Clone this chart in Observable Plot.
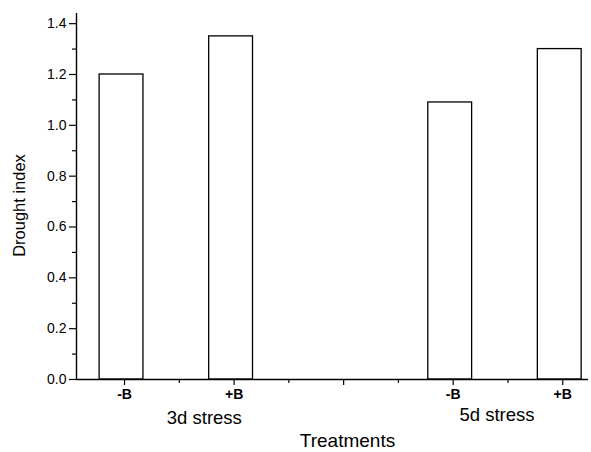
<!DOCTYPE html>
<html>
<head>
<meta charset="utf-8">
<script src="https://cdn.jsdelivr.net/npm/d3@7"></script>
<script src="https://cdn.jsdelivr.net/npm/@observablehq/plot@0.6"></script>
<style>
  html, body { margin: 0; padding: 0; background: #fff; }
</style>
</head>
<body>
<div id="chart"></div>
<script>
// ---- data ----
const treatments = ["-B", "+B", "-B", "+B"];
const groups = ["3d stress", "3d stress", "5d stress", "5d stress"];
const slots = [1, 3, 7, 9];               // ordinal slot on the treatment axis
const droughtIndex = [1.20, 1.35, 1.09, 1.30];
const groupNames = ["3d stress", "5d stress"];
const yTicks = [0, 0.2, 0.4, 0.6, 0.8, 1.0, 1.2, 1.4];
const yMinorTicks = [0.1, 0.3, 0.5, 0.7, 0.9, 1.1, 1.3];
const xMajorTicks = [1, 3, 5, 7, 9];
const xMinorTicks = [2, 4, 6, 8];

const data = treatments.map((t, i) => ({
  treatment: t, group: groups[i], slot: slots[i], value: droughtIndex[i]
}));
const groupCenters = groupNames.map(g => ({
  group: g, slot: d3.mean(data.filter(d => d.group === g), d => d.slot)
}));
const labelAt = new Map(data.map(d => [d.slot, d.treatment]));

const xDomain = [0.123, 9.47];
const yDomain = [0, 1.44];
const font = "'Liberation Sans', Arial, Helvetica, sans-serif";

const chart = Plot.plot({
  width: 591,
  height: 452,
  marginLeft: 76,
  marginRight: 3,
  marginTop: 13,
  marginBottom: 73,
  style: { fontFamily: font, color: "#000", background: "#fff", overflow: "visible" },
  x: { type: "linear", domain: xDomain },
  y: { domain: yDomain },
  marks: [
    Plot.rect(data, {
      x1: d => d.slot - 0.4, x2: d => d.slot + 0.4,
      y1: 0, y2: "value",
      fill: "white", stroke: "black", strokeWidth: 1.3, dx: -3
    }),
    Plot.ruleX([xDomain[0]], { stroke: "black", strokeWidth: 1.4 }),
    Plot.ruleY([0], { stroke: "black", strokeWidth: 1.4 }),
    Plot.axisY({
      ticks: yTicks, tickSize: 7, tickPadding: 3,
      tickFormat: d => d.toFixed(1), fontSize: 14, label: null, strokeWidth: 1.2
    }),
    Plot.axisY({
      ticks: yMinorTicks, tickSize: 4, text: null, label: null, strokeWidth: 1.2
    }),
    Plot.axisX({
      ticks: xMajorTicks, tickSize: 6, tickPadding: 4,
      tickFormat: d => labelAt.get(d) ?? "", fontSize: 14, fontWeight: "bold",
      label: null, strokeWidth: 1.2
    }),
    Plot.axisX({
      ticks: xMinorTicks, tickSize: 4, text: null, label: null, strokeWidth: 1.2
    }),
    Plot.text(groupCenters.filter(d => d.group === "3d stress"), {
      x: "slot", y: 0, text: "group", fontSize: 18.5,
      dy: 39, dx: 25, lineAnchor: "middle"
    }),
    Plot.text(groupCenters.filter(d => d.group === "5d stress"), {
      x: "slot", y: 0, text: "group", fontSize: 18.5,
      dy: 36, dx: -11, lineAnchor: "middle"
    }),
    Plot.text(["Treatments"], {
      frameAnchor: "bottom", text: d => d, fontSize: 19, dx: 15, dy: 61, lineAnchor: "middle"
    }),
    Plot.text(["Drought index"], {
      frameAnchor: "left", textAnchor: "middle", text: d => d, fontSize: 16.5, rotate: -90,
      dx: -57, dy: 9, lineAnchor: "middle"
    })
  ]
});

document.getElementById("chart").appendChild(chart);
</script>
</body>
</html>
